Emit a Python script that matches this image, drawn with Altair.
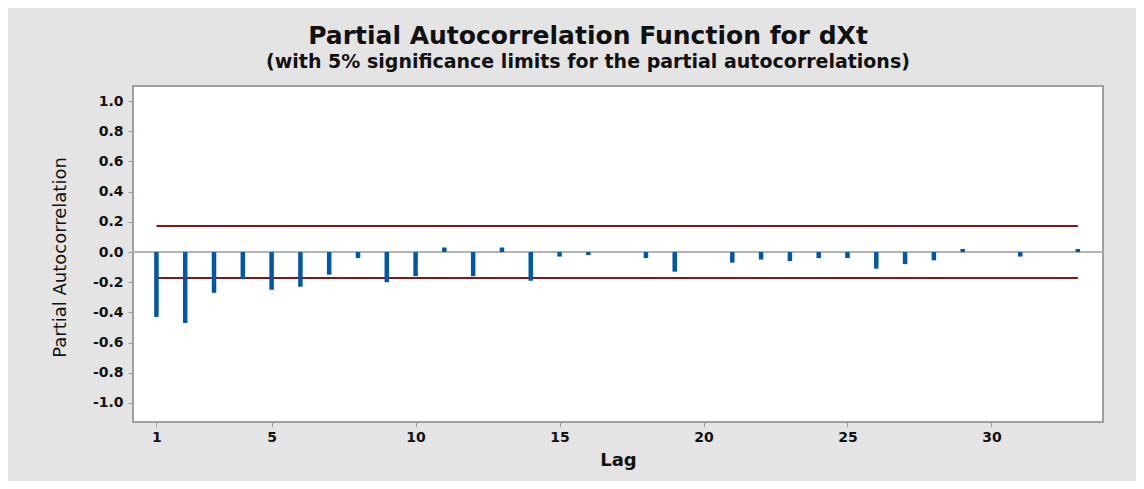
import altair as alt
import pandas as pd

lags = list(range(1, 34))
pacf = [-0.43, -0.47, -0.27, -0.18, -0.25, -0.23, -0.15, -0.04, -0.20, -0.16,
        0.03, -0.16, 0.03, -0.19, -0.03, -0.02, 0.0, -0.04, -0.13, 0.0,
        -0.07, -0.05, -0.06, -0.04, -0.04, -0.11, -0.08, -0.055, 0.02, 0.0,
        -0.03, 0.0, 0.02]
limit = 0.172
x_ticks = [1, 5, 10, 15, 20, 25, 30]
y_ticks = [-1.0, -0.8, -0.6, -0.4, -0.2, 0.0, 0.2, 0.4, 0.6, 0.8, 1.0]

df = pd.DataFrame({"Lag": lags, "PACF": pacf, "zero": [0.0] * len(lags)})
lim_df = pd.DataFrame({"x1": [1, 1], "x2": [33, 33], "y": [limit, -limit]})
zero_df = pd.DataFrame({"y": [0.0]})

xscale = alt.Scale(domain=[0.36, 33.7], nice=False, zero=False)
yscale = alt.Scale(domain=[-1.126, 1.1], nice=False, zero=False)

xaxis = alt.Axis(values=x_ticks, title="Lag", grid=False, domain=False,
                 tickColor="#9a9a9a", tickSize=5, tickWidth=1,
                 labelFont="DejaVu Sans", labelFontSize=14, labelFontWeight="bold",
                 labelColor="#111111", labelPadding=3,
                 titleFont="DejaVu Sans", titleFontSize=18, titleFontWeight="bold",
                 titleColor="#111111", titleY=38, titleBaseline="middle")
yaxis = alt.Axis(values=y_ticks, title="Partial Autocorrelation", grid=False, domain=False,
                 labelExpr="replace(format(datum.value, '.1f'), '\u2212', '-')",
                 tickColor="#9a9a9a", tickSize=5, tickWidth=1,
                 labelFont="DejaVu Sans", labelFontSize=14, labelFontWeight="bold",
                 labelColor="#111111", labelPadding=5,
                 titleFont="DejaVu Sans", titleFontSize=18,
                 titleFontWeight="normal", titleColor="#111111",
                 titleX=-73, titleY=171, titleAngle=-90, titleAlign="center",
                 titleBaseline="middle")

zero_line = alt.Chart(zero_df).mark_rule(color="#b4b4b4", strokeWidth=2).encode(
    y=alt.Y("y:Q", scale=yscale, axis=yaxis)
)

bars = alt.Chart(df).mark_bar(color="#0057a8", width=4.5).encode(
    x=alt.X("Lag:Q", scale=xscale, axis=xaxis),
    y=alt.Y("PACF:Q", scale=yscale, axis=yaxis),
    y2="zero:Q",
)

limits = alt.Chart(lim_df).mark_rule(color="#861515", strokeWidth=2).encode(
    x=alt.X("x1:Q", scale=xscale, axis=xaxis),
    x2="x2:Q",
    y=alt.Y("y:Q", scale=yscale, axis=yaxis),
)

chart = alt.layer(zero_line, limits, bars).properties(
    width=970,
    height=336,
    title=alt.TitleParams(
        text="Partial Autocorrelation Function for dXt",
        subtitle="(with 5% significance limits for the partial autocorrelations)",
        font="DejaVu Sans", fontSize=25, fontWeight="bold", color="#111111",
        subtitleFont="DejaVu Sans", subtitleFontSize=19, subtitleFontWeight="bold",
        subtitleColor="#111111", subtitlePadding=4, anchor="middle", offset=14, dx=-30,
    ),
    autosize=alt.AutoSizeParams(type="none"),
    padding={"left": 125, "top": 78, "right": 33, "bottom": 59},
).configure(background="#e4e4e4").configure_view(
    fill="white", stroke="#a0a0a0", strokeWidth=2
)

chart.save("out.html", embed_options={"renderer": "svg", "actions": False})
